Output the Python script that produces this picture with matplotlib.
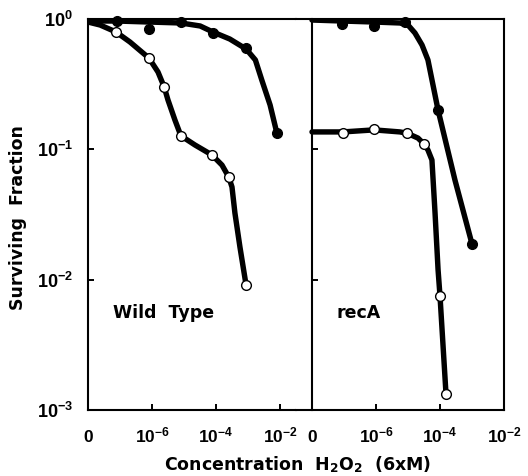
import numpy as np

import matplotlib
matplotlib.use('Agg')
import matplotlib.pyplot as plt

matplotlib.rcParams['font.family'] = 'Liberation Sans'
matplotlib.rcParams['font.weight'] = 'bold'
matplotlib.rcParams['mathtext.fontset'] = 'custom'
matplotlib.rcParams['mathtext.rm'] = 'Liberation Sans:bold'
matplotlib.rcParams['mathtext.it'] = 'Liberation Sans:bold'
matplotlib.rcParams['mathtext.bf'] = 'Liberation Sans:bold'

# concentration H2O2 (M); 0 = untreated, drawn at the "0" position of the axis
ZERO = 1e-8

# Wild Type
wt_filled_x = [8e-8, 8e-7, 8e-6, 8e-5, 8.7e-4, 8e-3]
wt_filled_y = [0.965, 0.838, 0.948, 0.781, 0.599, 0.133]
wt_open_x = [7.5e-8, 8e-7, 2.4e-6, 8e-6, 7.5e-5, 2.5e-4, 8.7e-4]
wt_open_y = [0.795, 0.502, 0.301, 0.127, 0.0905, 0.0613, 0.0091]
wt_filled_curve_x = [0, 8e-8, 8e-7, 8e-6, 3.2e-5, 8e-5, 2.7e-4, 8.7e-4, 1.7e-3, 2.7e-3, 4.9e-3, 8e-3]
wt_filled_curve_y = [0.965, 0.965, 0.948, 0.932, 0.884, 0.795, 0.702, 0.589, 0.485, 0.340, 0.219, 0.133]
wt_open_curve_x = [0, 2.4e-8, 7.5e-8, 2.05e-7, 8e-7, 1.54e-6, 2.4e-6, 3.16e-6, 5.2e-6, 8e-6,
                   2.2e-5, 7.5e-5, 1.54e-4, 2.5e-4, 3.16e-4, 3.9e-4, 5.6e-4, 8.7e-4]
wt_open_curve_y = [0.948, 0.899, 0.795, 0.666, 0.502, 0.392, 0.301, 0.239, 0.168, 0.127,
                   0.108, 0.0905, 0.0757, 0.0613, 0.0514, 0.0325, 0.0178, 0.0091]

# recA
ra_filled_x = [8.7e-8, 8.7e-7, 8e-6, 8.7e-5, 1e-3]
ra_filled_y = [0.915, 0.884, 0.948, 0.200, 0.0188]
ra_open_x = [9.3e-8, 8.7e-7, 9.3e-6, 3.16e-5, 1e-4, 1.54e-4]
ra_open_y = [0.133, 0.143, 0.133, 0.110, 0.0075, 0.00133]
ra_filled_curve_x = [0, 8.7e-8, 8.7e-7, 5.6e-6, 1e-5, 1.65e-5, 2.74e-5, 4.2e-5, 8.7e-5, 2.94e-4, 1e-3]
ra_filled_curve_y = [0.982, 0.965, 0.948, 0.932, 0.899, 0.781, 0.632, 0.485, 0.200, 0.058, 0.0188]
ra_open_curve_x = [0, 9.3e-8, 8.7e-7, 5.6e-6, 9.3e-6, 2.05e-5, 3.16e-5, 4.2e-5, 5.6e-5, 7e-5,
                   8.7e-5, 1e-4, 1.54e-4]
ra_open_curve_y = [0.136, 0.136, 0.141, 0.136, 0.133, 0.122, 0.110, 0.0988, 0.0828, 0.0325,
                   0.0119, 0.0075, 0.00133]

xticks = [ZERO, 1e-6, 1e-4, 1e-2]
xticklabels = ['0', r'$10^{-6}$', r'$10^{-4}$', r'$10^{-2}$']
yticks = [1e-3, 1e-2, 1e-1, 1e0]
yticklabels = [r'$10^{-3}$', r'$10^{-2}$', r'$10^{-1}$', r'$10^{0}$']

LABELFONT = 'DejaVu Sans'

def pos( x ):
    x = np.asarray( x, dtype=float )
    return np.where( x == 0, ZERO, x )

fig = plt.figure( figsize=(5.28, 4.76), dpi=100 )
W, H = 528., 476.
ax1 = fig.add_axes( [88/W, 66/H, 208/W, 391/H] )
ax2 = fig.add_axes( [296/W, 66/H, 208/W, 391/H] )

panels = [
    ( ax1, wt_filled_curve_x, wt_filled_curve_y, wt_open_curve_x, wt_open_curve_y,
      wt_filled_x, wt_filled_y, wt_open_x, wt_open_y, 'Wild  Type', 0.12 ),
    ( ax2, ra_filled_curve_x, ra_filled_curve_y, ra_open_curve_x, ra_open_curve_y,
      ra_filled_x, ra_filled_y, ra_open_x, ra_open_y, 'recA', 0.197 ),
]

for ax, fcx, fcy, ocx, ocy, fx, fy, ox, oy, name, tx in panels:
    ax.plot( pos(fcx), fcy, '-', color='black', lw=3.9, solid_capstyle='round', zorder=2 )
    ax.plot( pos(ocx), ocy, '-', color='black', lw=3.9, solid_capstyle='round', zorder=2 )
    ax.plot( fx, fy, 'o', color='black', ms=7, zorder=3, clip_on=False )
    ax.plot( ox, oy, 'o', mfc='white', mec='black', mew=1.0, ms=7, zorder=3, clip_on=False )
    ax.text( tx, 0.248, name, transform=ax.transAxes, fontsize=12.5, family=LABELFONT,
             fontweight='bold', ha='left', va='center' )

    ax.set_xscale( 'log' )
    ax.set_yscale( 'log' )
    ax.set_ylim( 1e-3, 1e0 )
    ax.set_xticks( xticks )
    ax.set_xticklabels( xticklabels )
    ax.minorticks_off()
    ax.tick_params( direction='in', length=4, width=1.4, labelsize=12.5, pad=23 )
    for t in ax.xaxis.get_major_ticks():
        t.label1.set_va( 'baseline' )
    for s in ax.spines.values():
        s.set_linewidth( 1.5 )

ax1.set_xlim( 1e-8, 10**-1.5 )
ax1.spines['right'].set_visible( False )
ax1.set_yticks( yticks )
ax1.set_yticklabels( yticklabels )
ax1.tick_params( axis='y', labelsize=13, pad=11 )

ax2.set_xlim( 10**-8.5, 1e-2 )
ax2.spines['left'].set_position( ('data', ZERO) )
ax2.set_yticks( yticks )
ax2.set_yticklabels( [] )

fig.text( 18/W, 1 - 218/H, 'Surviving  Fraction', rotation=90, fontsize=12.5,
          family=LABELFONT, fontweight='bold', ha='center', va='center' )
fig.text( 298/W, 1 - 465/H, r'Concentration  H$_\mathregular{2}$O$_\mathregular{2}$  (6xM)',
          fontsize=12.5, family=LABELFONT, fontweight='bold', ha='center', va='center' )

fig.savefig( 'out.png', dpi=100 )
